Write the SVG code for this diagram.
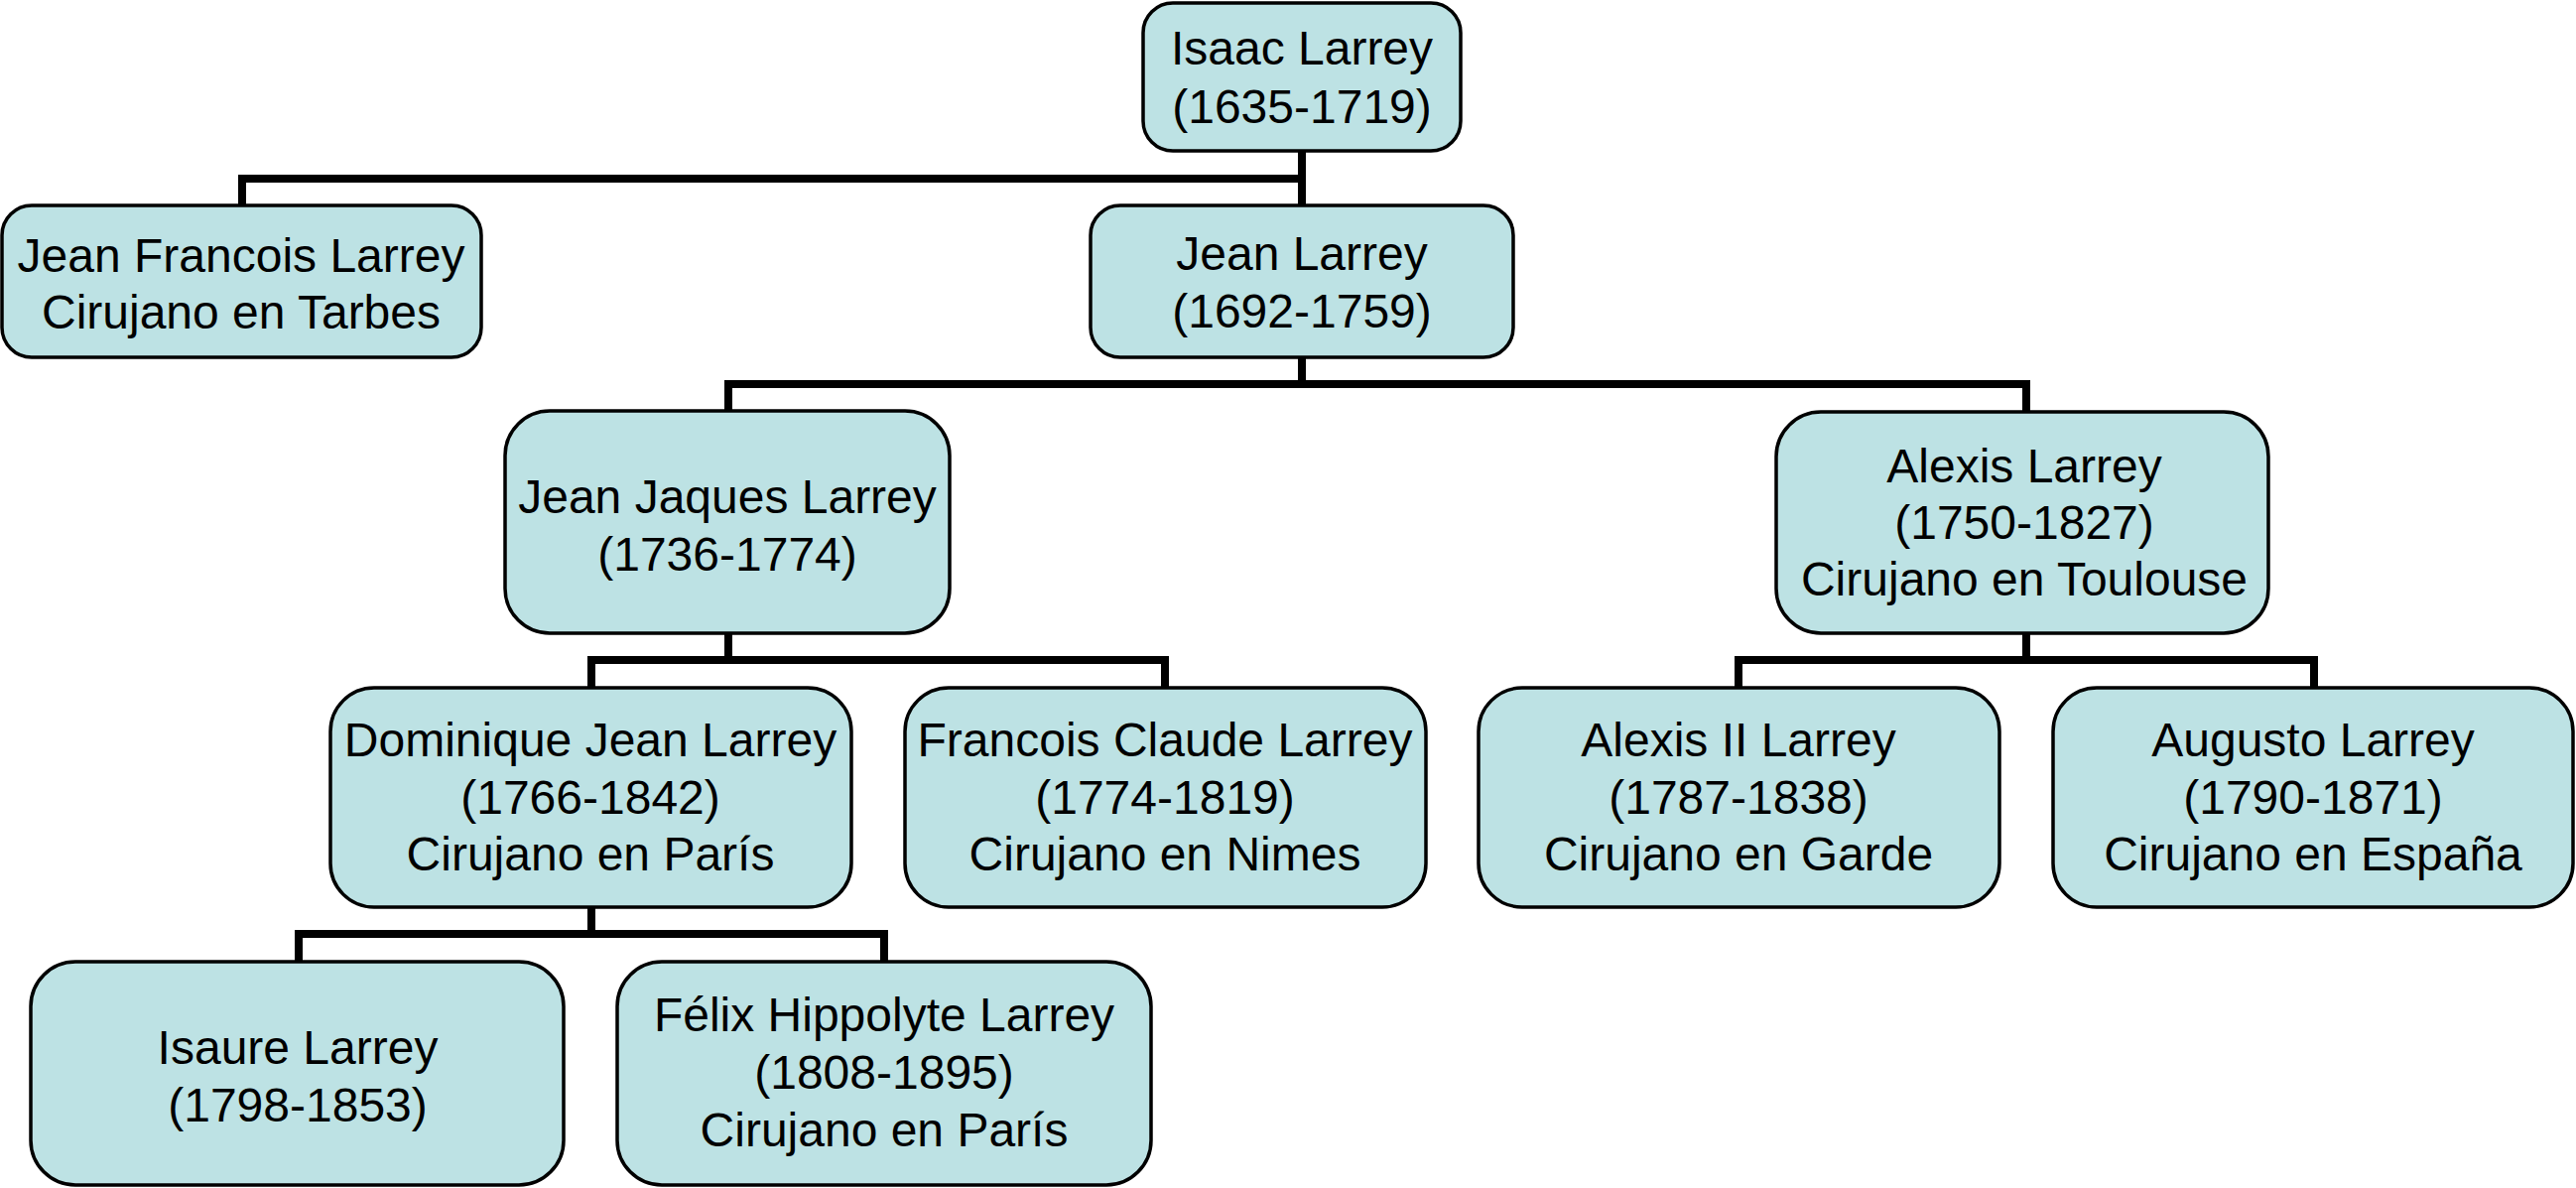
<svg xmlns="http://www.w3.org/2000/svg" width="2596" height="1197" viewBox="0 0 2596 1197">
<style>
.box{fill:#bde2e4;stroke:#000;stroke-width:3.5}
.t{font-family:"Liberation Sans",Arial,sans-serif;font-size:48px;fill:#000;text-anchor:middle}
.c{fill:none;stroke:#000;stroke-width:8;stroke-linejoin:miter;stroke-linecap:butt}
</style>
<rect width="2596" height="1197" fill="#fff"/>
<g id="connectors">
<path class="c" d="M1312 152V207"/>
<path class="c" d="M244 207V180H1312"/>
<path class="c" d="M1312 360V387"/>
<path class="c" d="M734 414V387H2042V415"/>
<path class="c" d="M734 638V665"/>
<path class="c" d="M596 693V665H1174V693"/>
<path class="c" d="M2042 638V665"/>
<path class="c" d="M1752 693V665H2332V693"/>
<path class="c" d="M596 914V941"/>
<path class="c" d="M301 969V941H891V969"/>
</g>
<g id="isaac">
<rect class="box" x="1152" y="3" width="320" height="149" rx="30"/>
<text class="t" x="1312" y="65">Isaac Larrey</text>
<text class="t" x="1312" y="124">(1635-1719)</text>
</g>
<g id="jean-francois">
<rect class="box" x="2" y="207" width="483" height="153" rx="30"/>
<text class="t" x="243" y="274">Jean Francois Larrey</text>
<text class="t" x="243" y="331">Cirujano en Tarbes</text>
</g>
<g id="jean">
<rect class="box" x="1099" y="207" width="426" height="153" rx="30"/>
<text class="t" x="1312" y="272">Jean Larrey</text>
<text class="t" x="1312" y="330">(1692-1759)</text>
</g>
<g id="jean-jaques">
<rect class="box" x="509" y="414" width="448" height="224" rx="45"/>
<text class="t" x="733" y="517">Jean Jaques Larrey</text>
<text class="t" x="733" y="575">(1736-1774)</text>
</g>
<g id="alexis">
<rect class="box" x="1790" y="415" width="496" height="223" rx="45"/>
<text class="t" x="2040" y="486">Alexis Larrey</text>
<text class="t" x="2040" y="543">(1750-1827)</text>
<text class="t" x="2040" y="600">Cirujano en Toulouse</text>
</g>
<g id="dominique">
<rect class="box" x="333" y="693" width="525" height="221" rx="44"/>
<text class="t" x="595" y="762">Dominique Jean Larrey</text>
<text class="t" x="595" y="820">(1766-1842)</text>
<text class="t" x="595" y="877">Cirujano en París</text>
</g>
<g id="francois-claude">
<rect class="box" x="912" y="693" width="525" height="221" rx="44"/>
<text class="t" x="1174" y="762">Francois Claude Larrey</text>
<text class="t" x="1174" y="820">(1774-1819)</text>
<text class="t" x="1174" y="877">Cirujano en Nimes</text>
</g>
<g id="alexis-ii">
<rect class="box" x="1490" y="693" width="525" height="221" rx="44"/>
<text class="t" x="1752" y="762">Alexis II Larrey</text>
<text class="t" x="1752" y="820">(1787-1838)</text>
<text class="t" x="1752" y="877">Cirujano en Garde</text>
</g>
<g id="augusto">
<rect class="box" x="2069" y="693" width="524" height="221" rx="44"/>
<text class="t" x="2331" y="762">Augusto Larrey</text>
<text class="t" x="2331" y="820">(1790-1871)</text>
<text class="t" x="2331" y="877">Cirujano en España</text>
</g>
<g id="isaure">
<rect class="box" x="31" y="969" width="537" height="225" rx="45"/>
<text class="t" x="300" y="1072">Isaure Larrey</text>
<text class="t" x="300" y="1130">(1798-1853)</text>
</g>
<g id="felix">
<rect class="box" x="622" y="969" width="538" height="225" rx="45"/>
<text class="t" x="891" y="1039">Félix Hippolyte Larrey</text>
<text class="t" x="891" y="1097">(1808-1895)</text>
<text class="t" x="891" y="1155">Cirujano en París</text>
</g>
</svg>
